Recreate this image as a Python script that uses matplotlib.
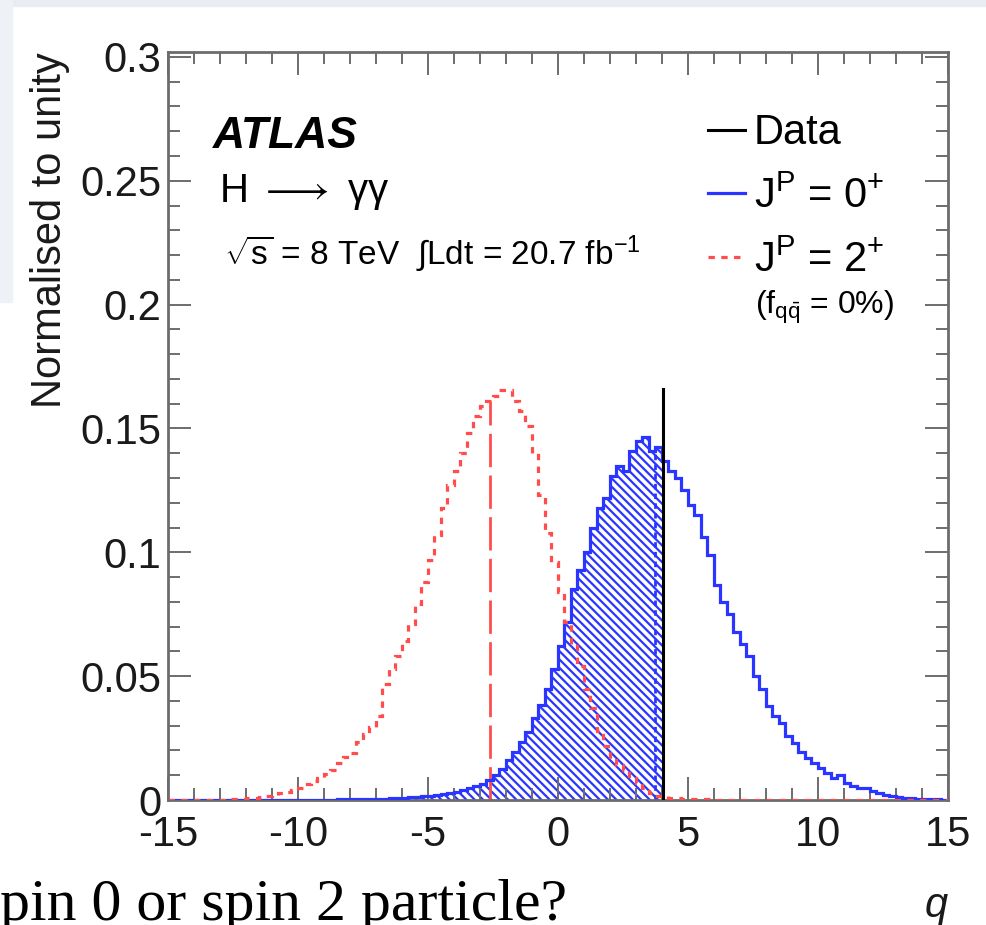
import numpy as np
import matplotlib
matplotlib.use("Agg")
import matplotlib.pyplot as plt
from matplotlib.patches import Rectangle
from matplotlib.lines import Line2D
from matplotlib.ticker import MultipleLocator, FixedLocator, FixedFormatter

plt.rcParams['font.family'] = ['Liberation Sans', 'DejaVu Sans']
plt.rcParams['mathtext.fontset'] = 'custom'
plt.rcParams['mathtext.rm'] = 'Liberation Sans'
plt.rcParams['mathtext.it'] = 'Liberation Sans:italic'
plt.rcParams['mathtext.bf'] = 'Liberation Sans:bold'
plt.rcParams['hatch.linewidth'] = 1.6

# histogram binning of the test statistic q
bin_edges = np.linspace(-15, 15, 121)

# J^P = 0+ pseudo-experiments (normalised), 4 bins per unit of q
spin0 = [
    0, 0, 0, 0,                          # -15
    0, 0, 0, 0,                          # -14
    0, 0, 0, 0,                          # -13
    0, 0, 0.0001, 0,                     # -12
    0.0001, 0.0001, 0.0001, 0.0001,      # -11
    0.0001, 0.0002, 0.0001, 0.0002,      # -10
    0.0002, 0.0002, 0.0003, 0.0003,      # -9
    0.0003, 0.0004, 0.0004, 0.0005,      # -8
    0.0005, 0.0006, 0.0007, 0.0008,      # -7
    0.0009, 0.0011, 0.0012, 0.0015,      # -6
    0.0017, 0.0020, 0.0024, 0.0028,      # -5
    0.0033, 0.0040, 0.0047, 0.0055,      # -4
    0.0065, 0.0080, 0.0100, 0.0125,      # -3
    0.0160, 0.0195, 0.0235, 0.0275,      # -2
    0.0330, 0.0385, 0.0450, 0.0530,      # -1
    0.0620, 0.0720, 0.0850, 0.0930,      # 0
    0.1000, 0.1100, 0.1180, 0.1220,      # 1
    0.1310, 0.1350, 0.1330, 0.1410,      # 2
    0.1450, 0.1465, 0.1410, 0.1425,      # 3
    0.1370, 0.1330, 0.1300, 0.1250,      # 4
    0.1190, 0.1150, 0.1060, 0.0990,      # 5
    0.0870, 0.0800, 0.0750, 0.0680,      # 6
    0.0630, 0.0580, 0.0500, 0.0450,      # 7
    0.0380, 0.0340, 0.0310, 0.0260,      # 8
    0.0230, 0.0195, 0.0170, 0.0150,      # 9
    0.0130, 0.0110, 0.0090, 0.0100,      # 10
    0.0070, 0.0055, 0.0050, 0.0050,      # 11
    0.0035, 0.0030, 0.0022, 0.0015,      # 12
    0.0012, 0.0010, 0.0008, 0.0006,      # 13
    0.0005, 0.0004, 0.0003, 0.0002,      # 14
]

# J^P = 2+ (f_qqbar = 0%) pseudo-experiments
spin2 = [
    0, 0, 0, 0,                          # -15
    0, 0.0001, 0.0001, 0.0002,           # -14
    0.0002, 0.0003, 0.0004, 0.0005,      # -13
    0.0007, 0.0010, 0.0014, 0.0018,      # -12
    0.0022, 0.0027, 0.0033, 0.0042,      # -11
    0.0050, 0.0065, 0.0075, 0.0090,      # -10
    0.0105, 0.0120, 0.0150, 0.0175,      # -9
    0.0190, 0.0235, 0.0265, 0.0295,      # -8
    0.0340, 0.0470, 0.0530, 0.0580,      # -7
    0.0640, 0.0710, 0.0790, 0.0880,      # -6
    0.0970, 0.1070, 0.1180, 0.1270,      # -5
    0.1330, 0.1400, 0.1480, 0.1550,      # -4
    0.1590, 0.1610, 0.1630, 0.1655,      # -3
    0.1655, 0.1610, 0.1570, 0.1510,      # -2
    0.1400, 0.1230, 0.1080, 0.0960,      # -1
    0.0840, 0.0720, 0.0630, 0.0540,      # 0
    0.0450, 0.0370, 0.0280, 0.0220,      # 1
    0.0160, 0.0140, 0.0120, 0.0090,      # 2
    0.0070, 0.0050, 0.0030, 0.0015,      # 3
    0.0015, 0.0010, 0.0008, 0.0006,      # 4
    0.0005, 0.0004, 0.0003, 0.0003,      # 5
    0.0002, 0.0002, 0.0001, 0.0001,      # 6
    0, 0, 0, 0,                          # 7
    0, 0, 0, 0,                          # 8
    0, 0, 0, 0,                          # 9
    0, 0, 0, 0,                          # 10
    0, 0, 0, 0,                          # 11
    0, 0, 0, 0,                          # 12
    0, 0, 0, 0,                          # 13
    0, 0, 0, 0,                          # 14
]

q_obs = 4.02          # observed value
q_obs_height = 0.166
median_spin0 = 3.72
median_spin2 = -2.62

x_ticks = [-15, -10, -5, 0, 5, 10, 15]
x_ticklabels = ['-15', '-10', '-5', '0', '5', '10', '15']
y_ticks = [0, 0.05, 0.1, 0.15, 0.2, 0.25, 0.3]
y_ticklabels = ['0', '0.05', '0.1', '0.15', '0.2', '0.25', '0.3']

blue = '#2a35ff'
red = '#ff4d4d'
frame = '#6c6c6c'

spin0 = np.array(spin0)
spin2 = np.array(spin2)


def value_at(hist, x):
    i = np.searchsorted(bin_edges, x) - 1
    return hist[i]


fig = plt.figure(figsize=(9.87, 9.25), dpi=100)
fig.patch.set_facecolor('white')
# slide background strips around the pasted plot
fig.patches.append(Rectangle((0, 1 - 6 / 925), 1, 6 / 925, transform=fig.transFigure,
                             color='#e9edf2', zorder=0))
fig.patches.append(Rectangle((0, 1 - 302 / 925), 12 / 987, 302 / 925, transform=fig.transFigure,
                             color='#eef1f5', zorder=0))

ax = fig.add_axes([168 / 987, 125 / 925, 780 / 987, 748 / 925])

# hatched area of the 0+ distribution below the observed value
fill = ax.fill_between(bin_edges[:-1], spin0, step='post', facecolor='none',
                       edgecolor=blue, hatch='\\\\\\\\', linewidth=0, zorder=1)
fill.set_clip_path(Rectangle((-15, 0), q_obs + 15, 1, transform=ax.transData))

ax.stairs(spin0, bin_edges, color=blue, linewidth=2.3, zorder=3)
ax.stairs(spin2, bin_edges, color=red, linewidth=2.3, linestyle=(0, (2.0, 2.0)), zorder=3)

ax.plot([median_spin2, median_spin2], [0, value_at(spin2, median_spin2)], color=red,
        linewidth=2.0, linestyle=(0, (12, 3)), zorder=2)
ax.plot([median_spin0, median_spin0], [0, value_at(spin0, median_spin0)], color=blue,
        linewidth=2.0, linestyle=(0, (2, 1.5)), zorder=2)
ax.plot([q_obs, q_obs], [0, q_obs_height], color='black', linewidth=2.2, zorder=4)

ax.set_xlim(-15, 15)
ax.set_ylim(0, 0.302)

ax.xaxis.set_major_locator(FixedLocator(x_ticks))
ax.xaxis.set_major_formatter(FixedFormatter(x_ticklabels))
ax.xaxis.set_minor_locator(MultipleLocator(1))
ax.yaxis.set_major_locator(FixedLocator(y_ticks))
ax.yaxis.set_major_formatter(FixedFormatter(y_ticklabels))
ax.yaxis.set_minor_locator(MultipleLocator(0.01))

ax.tick_params(which='both', direction='in', top=True, right=True, colors=frame,
               labelcolor='#1a1a1a', labelsize=30)
ax.tick_params(which='major', length=16.5, width=1.4)
ax.tick_params(which='minor', length=8.5, width=1.4)
ax.tick_params(axis='x', pad=11)
ax.tick_params(axis='y', pad=5)
for s in ax.spines.values():
    s.set_color(frame)
    s.set_linewidth(2.0)

ax.set_ylabel('Normalised to unity', fontsize=30, loc='top', labelpad=7, color='#1a1a1a')
ax.set_xlabel('q', fontsize=30, loc='right', style='italic', labelpad=22, color='#1a1a1a')

ax.text(0.058, 0.872, 'ATLAS', transform=ax.transAxes, fontsize=32,
        fontweight='bold', style='italic')
ax.text(0.066, 0.8, r'H $\longrightarrow$ $\mathregular{\gamma\gamma}$', transform=ax.transAxes,
        fontsize=29)
ax.text(0.072, 0.715, r'$\mathregular{\sqrt{s}}$ = 8 TeV  $\int$Ldt = 20.7 fb$^{\mathregular{-1}}$',
        transform=ax.transAxes, fontsize=24)

handles = [Line2D([], [], color='black', lw=2.2),
           Line2D([], [], color=blue, lw=2.3),
           Line2D([], [], color=red, lw=2.3, linestyle=(0, (2.0, 2.0)))]
labels = ['Data', r'J$^{\mathregular{P}}$ = 0$^{+}$', r'J$^{\mathregular{P}}$ = 2$^{+}$']
ax.legend(handles, labels, loc='upper left', bbox_to_anchor=(0.692, 0.918), frameon=False,
          fontsize=30, handlelength=0.9, handletextpad=0.2, labelspacing=0.56,
          borderpad=0, borderaxespad=0)
ax.text(0.752, 0.65, r'(f$_{\mathregular{q\bar{q}}}$ = 0%)', transform=ax.transAxes,
        fontsize=23)

fig.text(567 / 987, 5 / 925, 'pin 0 or spin 2 particle?', ha='right', va='baseline',
         fontsize=43, family='Liberation Serif')

fig.savefig('out.png', dpi=100)
